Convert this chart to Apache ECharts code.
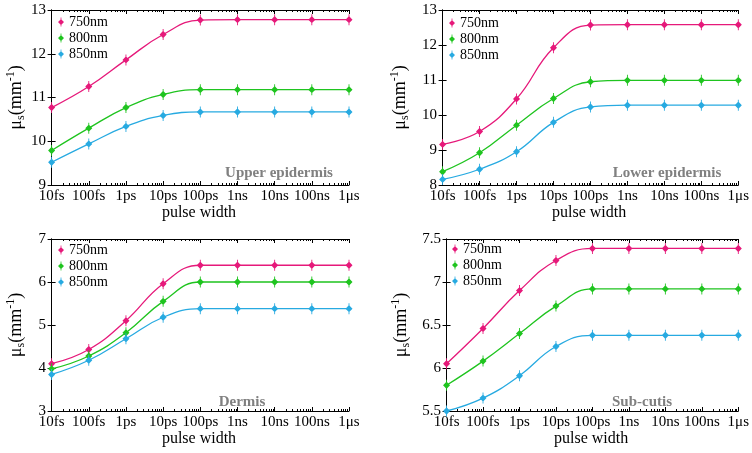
<!DOCTYPE html>
<html><head><meta charset="utf-8">
<script src="https://cdn.jsdelivr.net/npm/echarts@6/dist/echarts.min.js"></script>
<style>html,body{margin:0;padding:0;background:#fff}#c{width:752px;height:453px}</style>
</head><body><div id="c"></div>
<script>
const categories = ['10fs','100fs','1ps','10ps','100ps','1ns','10ns','100ns','1\u03bcs'];
const seriesNames = ['750nm','800nm','850nm'];
const colors = ['#e6197a','#1fc41f','#27aae1'];

const upper750 = [10.77,11.25,11.86,12.44,12.77,12.78,12.78,12.78,12.78];
const upper800 = [9.79,10.30,10.77,11.07,11.18,11.18,11.18,11.18,11.18];
const upper850 = [9.52,9.94,10.34,10.59,10.67,10.67,10.67,10.67,10.67];

const lower750 = [9.16,9.53,10.46,11.92,12.57,12.58,12.58,12.58,12.58];
const lower800 = [8.38,8.92,9.71,10.47,10.95,10.99,10.99,10.99,10.99];
const lower850 = [8.16,8.45,8.95,9.79,10.23,10.28,10.28,10.28,10.28];

const dermis750 = [4.10,4.43,5.10,5.96,6.39,6.39,6.39,6.39,6.39];
const dermis800 = [3.98,4.28,4.82,5.55,6.00,6.00,6.00,6.00,6.00];
const dermis850 = [3.85,4.18,4.68,5.18,5.38,5.38,5.38,5.38,5.38];

const sub750 = [6.05,6.46,6.90,7.25,7.39,7.39,7.39,7.39,7.39];
const sub800 = [5.80,6.08,6.40,6.72,6.92,6.92,6.92,6.92,6.92];
const sub850 = [5.50,5.65,5.91,6.25,6.38,6.38,6.38,6.38,6.38];

const panelTitles = ['Upper epidermis','Lower epidermis','Dermis','Sub-cutis'];

const panels = [
  {data:[upper750,upper800,upper850], min:9, max:13, interval:1, grid:{left:49,top:10,width:300,height:175}, nameGap:22, title:[274,161], legend:[53,10]},
  {data:[lower750,lower800,lower850], min:8, max:13, interval:1, grid:{left:440,top:10,width:299,height:175}, nameGap:29, title:[662,161], legend:[444,11]},
  {data:[dermis750,dermis800,dermis850], min:3, max:7, interval:1, grid:{left:49,top:239,width:300,height:172}, nameGap:22, title:[237,390], legend:[53,238]},
  {data:[sub750,sub800,sub850], min:5.5, max:7.5, interval:0.5, grid:{left:444,top:239,width:295,height:172}, nameGap:32, title:[637,390], legend:[447,237]}
];

const FONT = "'Liberation Serif','Times New Roman',serif";
const sym = 'path://M4.5,0h1v2.5l3.5,3.5l-3.5,3.5v2.5h-1v-2.5l-3.5,-3.5l3.5,-3.5z';
const majorTicks = categories.map((c,i)=>i);
const minorTicks = [];
for (let i=0;i<8;i++) for (let m=2;m<=9;m++) minorTicks.push(i+Math.log10(m));

const grids=[], xAxes=[], yAxes=[], series=[], legends=[], titles=[];
panels.forEach((p,k)=>{
  grids.push(Object.assign({}, p.grid));
  const axLine = {show:true, lineStyle:{color:'#000', width:1}};
  const xBase = k*4;
  xAxes.push({type:'value', gridIndex:k, min:-0.07, max:8, position:'bottom',
    axisLine:axLine, splitLine:{show:false},
    axisTick:{show:true, inside:true, length:4, customValues:majorTicks, lineStyle:{color:'#000'}},
    axisLabel:{show:true, customValues:majorTicks, formatter:v=>categories[Math.round(v)], color:'#000', fontFamily:FONT, fontSize:15, margin:4},
    name:'pulse width', nameLocation:'middle', nameGap:19, nameTextStyle:{color:'#000', fontFamily:FONT, fontSize:16}
  });
  xAxes.push({type:'value', gridIndex:k, min:-0.07, max:8, position:'top',
    axisLine:axLine, splitLine:{show:false},
    axisTick:{show:true, inside:true, length:4, customValues:majorTicks, lineStyle:{color:'#000'}},
    axisLabel:{show:false}
  });
  xAxes.push({type:'value', gridIndex:k, min:-0.07, max:8, position:'bottom',
    axisLine:{show:false}, splitLine:{show:false},
    axisTick:{show:true, inside:true, length:2, customValues:minorTicks, lineStyle:{color:'#000'}},
    axisLabel:{show:false}
  });
  xAxes.push({type:'value', gridIndex:k, min:-0.07, max:8, position:'top',
    axisLine:{show:false}, splitLine:{show:false},
    axisTick:{show:true, inside:true, length:2, customValues:minorTicks, lineStyle:{color:'#000'}},
    axisLabel:{show:false}
  });
  yAxes.push({type:'value', gridIndex:k, min:p.min, max:p.max, interval:p.interval, position:'left',
    axisLine:axLine, splitLine:{show:false},
    axisTick:{show:true, inside:true, length:4, lineStyle:{color:'#000'}},
    axisLabel:{color:'#000', fontFamily:FONT, fontSize:15, margin:3},
    name:'{a|\u03bc}{s|s}{a|(mm}{p|-1}{a|)}', nameLocation:'middle', nameGap:p.nameGap, nameRotate:90,
    nameTextStyle:{color:'#000', fontFamily:FONT, fontSize:18,
      rich:{a:{fontFamily:FONT,fontSize:18,color:'#000',lineHeight:22,verticalAlign:'middle'},
            s:{fontFamily:FONT,fontSize:12,color:'#000',lineHeight:22,verticalAlign:'bottom'},
            p:{fontFamily:FONT,fontSize:12,color:'#000',lineHeight:22,verticalAlign:'top'}}}
  });
  yAxes.push({type:'value', gridIndex:k, min:p.min, max:p.max, interval:p.interval, position:'right',
    axisLine:axLine, splitLine:{show:false},
    axisTick:{show:true, inside:true, length:4, lineStyle:{color:'#000'}},
    axisLabel:{show:false}
  });
  p.data.forEach((vals,j)=>{
    series.push({type:'line', name:seriesNames[j], xAxisIndex:xBase, yAxisIndex:2*k,
      data: vals.map((v,i)=>[i,v]), smooth:0.45,
      symbol:sym, symbolSize:[7,11], showAllSymbol:true,
      lineStyle:{color:colors[j], width:1.3}, itemStyle:{color:colors[j]},
      emphasis:{disabled:true}, animation:false, z:3});
  });
  legends.push({show:true, orient:'vertical', left:p.legend[0], top:p.legend[1],
    data:seriesNames.map(n=>({name:n, icon:sym})),
    itemWidth:6, itemHeight:9, itemGap:2,
    textStyle:{fontFamily:FONT, fontSize:14, color:'#000', lineHeight:14},
    selectedMode:false});
  titles.push({text:panelTitles[k], left:p.title[0], top:p.title[1], textAlign:'center',
    textStyle:{fontFamily:FONT, fontSize:15, fontWeight:'bold', color:'#808080'}});
});

const chart = echarts.init(document.getElementById('c'), null, {renderer:'canvas'});
chart.setOption({
  backgroundColor:'#fff', animation:false,
  title:titles, grid:grids, xAxis:xAxes, yAxis:yAxes, legend:legends, series:series
});
</script></body></html>
